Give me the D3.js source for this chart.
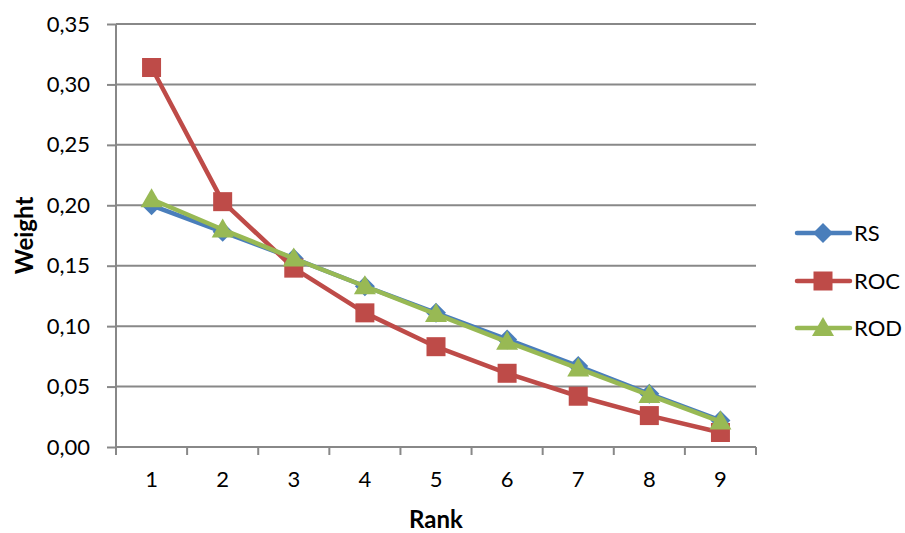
<!DOCTYPE html>
<html><head><meta charset="utf-8">
<script src="https://cdn.jsdelivr.net/npm/d3@7"></script>
<style>body{margin:0;background:#fff}svg{display:block;font-family:Lato,"Open Sans",sans-serif}</style>
</head><body><svg id="c" width="905" height="533"></svg>
<script>
const ranks = [1,2,3,4,5,6,7,8,9];
const rsValues  = [0.200,0.178,0.156,0.133,0.111,0.089,0.067,0.044,0.022];
const rocValues = [0.314,0.203,0.148,0.111,0.083,0.061,0.042,0.026,0.012];
const rodValues = [0.205,0.180,0.156,0.133,0.110,0.087,0.065,0.043,0.021];
const seriesNames = ["RS","ROC","ROD"];
const yTicks = [0,0.05,0.10,0.15,0.20,0.25,0.30,0.35];

const series = [
  {name:seriesNames[0], values:rsValues,  color:"#4a7ebb", shape:"diamond"},
  {name:seriesNames[1], values:rocValues, color:"#be4b48", shape:"square"},
  {name:seriesNames[2], values:rodValues, color:"#98b954", shape:"triangle"}
];

const svg = d3.select("#c");
const L=116, R=756, T=24, B=447;
const x = d3.scaleBand().domain(ranks).range([L,R]);
const y = d3.scaleLinear().domain([0,0.35]).range([B,T]);
const fmt = d => d3.format(".2f")(d).replace(".",",");
const grid="#888888";

// gridlines
svg.append("g").selectAll("line").data(yTicks.filter(d=>d>0)).join("line")
  .attr("x1",L).attr("x2",R).attr("y1",d=>y(d)).attr("y2",d=>y(d))
  .attr("stroke",grid).attr("stroke-width",2);

// y axis
const ya = svg.append("g").attr("transform",`translate(${L},0)`)
  .call(d3.axisLeft(y).tickValues(yTicks).tickFormat(fmt).tickSize(9).tickPadding(17));
ya.select(".domain").attr("stroke",grid).attr("stroke-width",2).attr("d",`M0,${T}V${B}`);
ya.selectAll(".tick line").attr("stroke",grid).attr("stroke-width",2);
ya.selectAll("text").attr("font-size",22).attr("fill","#000").attr("font-family","Lato");

// x axis
const xa = svg.append("g").attr("transform",`translate(0,${B})`)
  .call(d3.axisBottom(x).tickSize(0).tickPadding(24));
xa.select(".domain").attr("stroke",grid).attr("stroke-width",2).attr("d",`M${L},0H${R}`);
xa.selectAll("text").attr("font-size",22).attr("fill","#000").attr("font-family","Lato");
const bounds = ranks.map(r=>x(r)).concat([R]);
xa.append("g").selectAll("line").data(bounds).join("line")
  .attr("x1",d=>d).attr("x2",d=>d).attr("y1",0).attr("y2",8)
  .attr("stroke",grid).attr("stroke-width",2);

// axis titles
svg.append("text").attr("transform",`translate(33,${(T+B)/2}) rotate(-90)`)
  .attr("text-anchor","middle").attr("font-weight","bold").attr("font-size",24).text("Weight");
svg.append("text").attr("x",(L+R)/2).attr("y",528)
  .attr("text-anchor","middle").attr("font-weight","bold").attr("font-size",24).text("Rank");

const cx = r => x(r)+x.bandwidth()/2;
function marker(g, shape, color){
  if(shape==="square") g.append("rect").attr("x",-9.5).attr("y",-9.5).attr("width",19).attr("height",19).attr("fill",color);
  else if(shape==="diamond") g.append("path").attr("d","M0,-10L10,0L0,10L-10,0Z").attr("fill",color);
  else g.append("path").attr("d","M0,-11L11,8L-11,8Z").attr("fill",color);
}
const line = d3.line().x((d,i)=>cx(ranks[i])).y(d=>y(d));
series.forEach(s=>{
  const g = svg.append("g");
  g.append("path").datum(s.values).attr("d",line).attr("fill","none")
    .attr("stroke",s.color).attr("stroke-width",4.5).attr("stroke-linejoin","round");
  s.values.forEach((v,i)=>{
    const m = g.append("g").attr("transform",`translate(${cx(ranks[i])},${y(v)})`);
    marker(m,s.shape,s.color);
  });
});

// legend
const legY = [233,281,328];
series.forEach((s,i)=>{
  const g = svg.append("g").attr("transform",`translate(0,${legY[i]})`);
  g.append("line").attr("x1",797).attr("x2",850).attr("stroke",s.color).attr("stroke-width",4.5).attr("stroke-linecap","round");
  const m = g.append("g").attr("transform","translate(823,0)");
  marker(m,s.shape,s.color);
  g.append("text").attr("x",854).attr("y",8).attr("font-size",22).attr("fill","#000").text(s.name);
});
</script></body></html>
